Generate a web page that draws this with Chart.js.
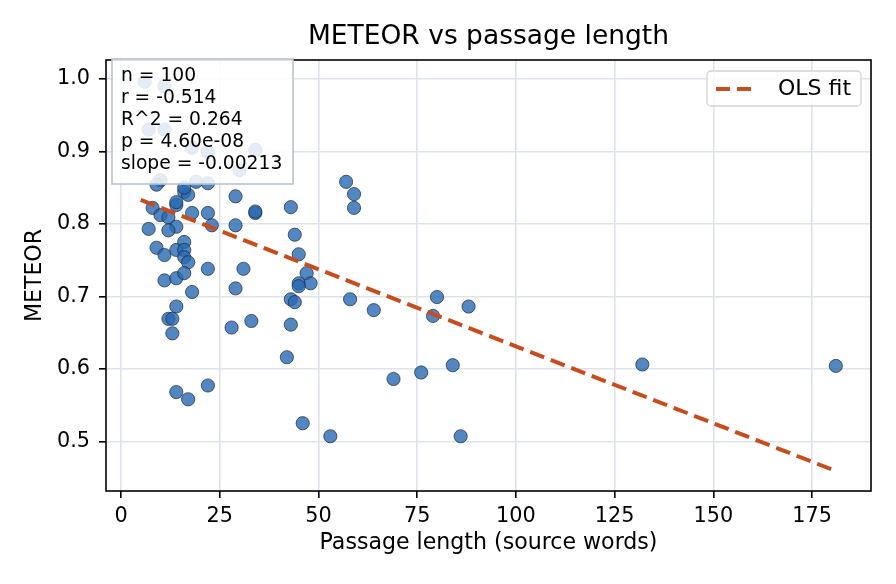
<!DOCTYPE html>
<html>
<head>
<meta charset="utf-8">
<script src="https://cdn.jsdelivr.net/npm/chart.js@4.4.1/dist/chart.umd.min.js"></script>
<style>
  body { margin: 0; background: #fff; }
  canvas { display: block; }
</style>
</head>
<body>
<canvas id="chart" width="896" height="584"></canvas>
<script>
// passage length (source words) for each sample
const lengths = [
  6, 11, 7, 11, 18, 22, 30,
  10, 9, 16, 17, 19, 22, 29, 34, 8, 10, 14, 12, 14, 18, 22, 23, 29, 7, 12,
  9, 11, 14, 16, 16, 16, 17, 22, 31, 11, 14, 16, 18, 29, 16, 14, 34,
  14, 12, 13, 13, 28, 33, 14, 17, 22,
  57, 59, 59, 43, 44, 45, 47, 45, 48, 45, 43, 44, 43, 42, 58, 64, 80, 79, 88,
  69, 76, 84, 46, 53, 86,
  132, 181, 34
];
// METEOR score for each sample
const meteor = [
  0.996, 0.990, 0.930, 0.930, 0.905, 0.899, 0.874,
  0.860, 0.854, 0.844, 0.840, 0.858, 0.856, 0.838, 0.815, 0.822, 0.812, 0.826, 0.809, 0.796, 0.815, 0.815, 0.798, 0.798, 0.793, 0.791,
  0.767, 0.757, 0.764, 0.775, 0.764, 0.754, 0.747, 0.738, 0.738, 0.722, 0.725, 0.732, 0.706, 0.711, 0.850, 0.830, 0.817,
  0.686, 0.669, 0.669, 0.649, 0.657, 0.666, 0.568, 0.558, 0.577,
  0.858, 0.841, 0.822, 0.823, 0.785, 0.758, 0.732, 0.718, 0.718, 0.714, 0.696, 0.692, 0.661, 0.616, 0.696, 0.681, 0.699, 0.673, 0.686,
  0.586, 0.595, 0.605, 0.525, 0.507, 0.507,
  0.606, 0.604, 0.902
];

// OLS fit end points
const fitX = [5, 181];
const fitY = [0.833, 0.459];

const xTicks = [0, 25, 50, 75, 100, 125, 150, 175];
const yTicks = [0.5, 0.6, 0.7, 0.8, 0.9, 1.0];

const titleText = 'METEOR vs passage length';
const statsLines = ['n = 100', 'r = -0.514', 'R^2 = 0.264', 'p = 4.60e-08', 'slope = -0.00213'];

const FONT = '"DejaVu Sans", sans-serif';
const fitColor = 'rgb(200,76,28)';
const gridColor = '#dde3ec';

Chart.defaults.font.family = FONT;
Chart.defaults.color = '#000';

const points = lengths.map((x, i) => ({ x: x, y: meteor[i] }));
const fitPoints = fitX.map((x, i) => ({ x: x, y: fitY[i] }));

// title centred on the plot, spines, stats box and legend
const overlay = {
  id: 'overlay',
  afterDatasetsDraw(chart) {
    const { ctx, chartArea: a } = chart;
    ctx.save();
    ctx.fillStyle = '#000';
    ctx.font = '26.5px ' + FONT;
    ctx.textAlign = 'center';
    ctx.textBaseline = 'middle';
    ctx.fillText(titleText, (a.left + a.right) / 2, 37);

    // frame
    ctx.strokeStyle = '#000';
    ctx.lineWidth = 1.6;
    ctx.strokeRect(a.left, a.top, a.right - a.left, a.bottom - a.top);

    // stats box
    ctx.fillStyle = 'rgba(255,255,255,0.85)';
    ctx.fillRect(a.left + 6, a.top - 1, 181, 125);
    ctx.strokeStyle = '#b8c2d0';
    ctx.lineWidth = 1.6;
    ctx.strokeRect(a.left + 6, a.top - 1, 181, 125);
    ctx.fillStyle = '#000';
    ctx.font = '18.7px ' + FONT;
    ctx.textAlign = 'left';
    statsLines.forEach((t, i) => ctx.fillText(t, a.left + 15, a.top + 16 + i * 22));

    // legend
    const lx = a.right - 164, ly = a.top + 11, lw = 154, lh = 35;
    ctx.fillStyle = 'rgba(255,255,255,0.8)';
    ctx.strokeStyle = '#d3d3d3';
    ctx.lineWidth = 1.3;
    ctx.beginPath();
    ctx.roundRect(lx, ly, lw, lh, 4);
    ctx.fill();
    ctx.stroke();
    ctx.strokeStyle = fitColor;
    ctx.lineWidth = 4;
    ctx.setLineDash([14, 7]);
    ctx.beginPath();
    ctx.moveTo(lx + 9, ly + 18);
    ctx.lineTo(lx + 46, ly + 18);
    ctx.stroke();
    ctx.setLineDash([]);
    ctx.fillStyle = '#000';
    ctx.font = '22px ' + FONT;
    ctx.fillText(chart.data.datasets[0].label, lx + 71, ly + 18);
    ctx.restore();
  }
};

new Chart(document.getElementById('chart'), {
  type: 'scatter',
  data: {
    datasets: [
      {
        type: 'line',
        label: 'OLS fit',
        data: fitPoints,
        borderColor: fitColor,
        borderWidth: 4,
        borderDash: [15, 7],
        pointRadius: 0,
        fill: false,
        order: 0
      },
      {
        label: 'samples',
        data: points,
        backgroundColor: 'rgba(40,105,178,0.8)',
        borderColor: 'rgba(25,35,55,0.85)',
        borderWidth: 0.8,
        pointRadius: 6.6,
        order: 1
      }
    ]
  },
  plugins: [overlay],
  options: {
    responsive: false,
    animation: false,
    devicePixelRatio: 1,
    layout: { padding: { left: 0, right: 25, top: 60, bottom: 0 } },
    plugins: {
      legend: { display: false },
      tooltip: { enabled: false },
      title: { display: false }
    },
    scales: {
      x: {
        type: 'linear',
        min: -3.8,
        max: 189.9,
        afterBuildTicks: s => { s.ticks = xTicks.map(v => ({ value: v })); },
        afterFit: s => { s.height = 93; },
        ticks: {
          font: { size: 20.8 },
          color: '#000',
          padding: 6,
          maxRotation: 0,
          callback: v => String(v)
        },
        grid: { color: gridColor, lineWidth: 1.6, tickColor: '#000', tickWidth: 1.6, tickLength: 7 },
        border: { display: false },
        title: {
          display: true,
          text: 'Passage length (source words)',
          color: '#000',
          font: { size: 22.1 },
          padding: { top: 0, bottom: 27 }
        }
      },
      y: {
        type: 'linear',
        min: 0.4315,
        max: 1.026,
        afterBuildTicks: s => { s.ticks = yTicks.map(v => ({ value: v })); },
        afterFit: s => { s.width = 106; },
        ticks: {
          font: { size: 20.8 },
          color: '#000',
          padding: 9,
          callback: v => v.toFixed(1)
        },
        grid: { color: gridColor, lineWidth: 1.6, tickColor: '#000', tickWidth: 1.6, tickLength: 7 },
        border: { display: false },
        title: {
          display: true,
          text: 'METEOR',
          color: '#000',
          font: { size: 22.1 },
          padding: { top: 22, bottom: 0 }
        }
      }
    }
  }
});
</script>
</body>
</html>
